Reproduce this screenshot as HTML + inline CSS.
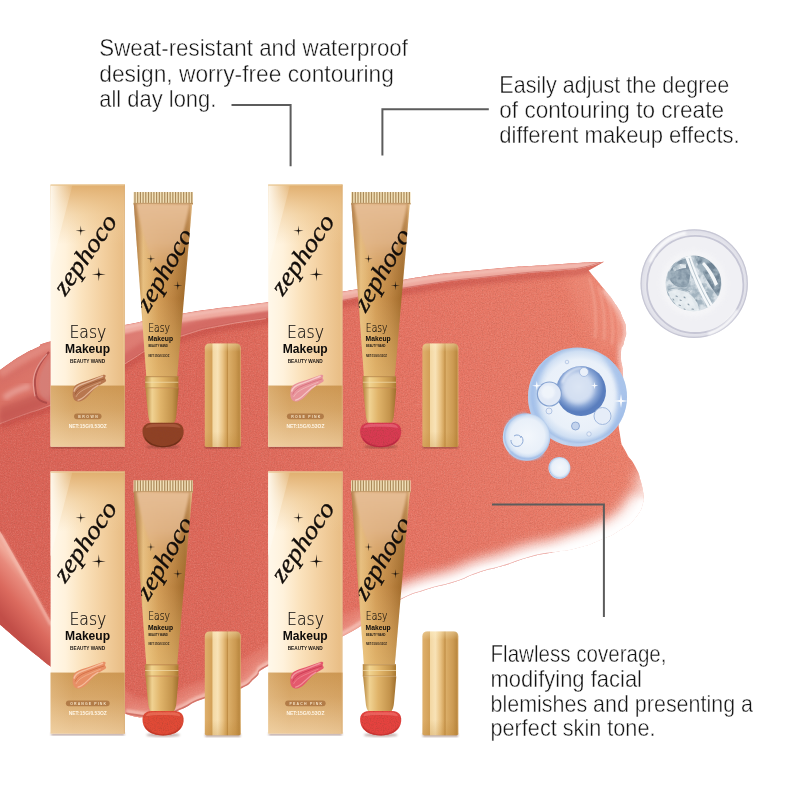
<!DOCTYPE html>
<html lang="en"><head><meta charset="utf-8"><title>Easy Makeup Beauty Wand</title>
<style>html,body{margin:0;padding:0;background:#fff;width:800px;height:800px;overflow:hidden}svg{display:block;will-change:transform}text{white-space:pre}</style>
</head><body>
<svg width="800" height="800" viewBox="0 0 800 800" font-family="'Liberation Sans', sans-serif">

<defs>
<linearGradient id="boxH" x1="0" x2="1" y1="0" y2="0">
 <stop offset="0" stop-color="#fff8ea"/><stop offset=".2" stop-color="#fff2dc"/><stop offset=".42" stop-color="#fbe3be"/>
 <stop offset=".7" stop-color="#f3d0a0"/><stop offset=".97" stop-color="#e9be86"/><stop offset="1" stop-color="#f3d5a8"/>
</linearGradient>
<linearGradient id="boxTop" x1="0" x2="0" y1="0" y2="1">
 <stop offset="0" stop-color="#e0ae6e" stop-opacity="1"/><stop offset=".2" stop-color="#e6b97e" stop-opacity=".85"/><stop offset=".5" stop-color="#ecc690" stop-opacity=".5"/><stop offset="1" stop-color="#f0cf9f" stop-opacity="0"/>
</linearGradient>
<linearGradient id="boxDiag" x1="0" x2="1" y1="0" y2="0">
 <stop offset="0" stop-color="#fffaf0" stop-opacity=".95"/><stop offset="1" stop-color="#fff4e0" stop-opacity=".1"/>
</linearGradient>
<linearGradient id="band" x1="0" x2="0" y1="0" y2="1">
 <stop offset="0" stop-color="#cd9752"/><stop offset=".4" stop-color="#d6a566"/><stop offset="1" stop-color="#ecc999"/>
</linearGradient>
<linearGradient id="bandH" x1="0" x2="1" y1="0" y2="0">
 <stop offset="0" stop-color="#f6dcb0" stop-opacity=".3"/><stop offset=".3" stop-color="#f6dcb0" stop-opacity=".05"/><stop offset="1" stop-color="#c8924e" stop-opacity=".12"/>
</linearGradient>
<linearGradient id="tubeH" x1="0" x2="1" y1="0" y2="0">
 <stop offset="0" stop-color="#94622a"/><stop offset=".05" stop-color="#ae7838"/><stop offset=".16" stop-color="#e8c080"/><stop offset=".25" stop-color="#e2b572"/>
 <stop offset=".42" stop-color="#d29c56"/><stop offset=".68" stop-color="#ba8240"/><stop offset=".88" stop-color="#a06a2a"/><stop offset=".95" stop-color="#b07a38"/><stop offset="1" stop-color="#f0d090"/>
</linearGradient>
<linearGradient id="tubeV" x1="0" x2="0" y1="0" y2="1">
 <stop offset="0" stop-color="#ddb08a" stop-opacity=".45"/><stop offset=".2" stop-color="#dcae84" stop-opacity=".25"/><stop offset=".55" stop-color="#e8c68c" stop-opacity="0"/><stop offset=".8" stop-color="#f0cc80" stop-opacity=".25"/><stop offset="1" stop-color="#f4d48a" stop-opacity=".38"/>
</linearGradient>
<linearGradient id="wedge" x1="0" x2="0" y1="0" y2="1">
 <stop offset="0" stop-color="#e6bd94" stop-opacity="1"/><stop offset=".5" stop-color="#e2b68a" stop-opacity=".85"/><stop offset="1" stop-color="#dcac7c" stop-opacity="0"/>
</linearGradient>
<linearGradient id="collarH" x1="0" x2="1" y1="0" y2="0">
 <stop offset="0" stop-color="#b88840"/><stop offset=".2" stop-color="#f1d490"/><stop offset=".5" stop-color="#e2b66a"/><stop offset=".85" stop-color="#c4944a"/><stop offset="1" stop-color="#a87830"/>
</linearGradient>
<linearGradient id="neckH" x1="0" x2="1" y1="0" y2="0">
 <stop offset="0" stop-color="#b4843c"/><stop offset=".2" stop-color="#f0d292"/><stop offset=".45" stop-color="#e0b46a"/><stop offset=".8" stop-color="#c4944c"/><stop offset="1" stop-color="#9e6e2c"/>
</linearGradient>
<linearGradient id="capH" x1="0" x2="1" y1="0" y2="0">
 <stop offset="0" stop-color="#dfb06c"/><stop offset=".1" stop-color="#d9a862"/><stop offset=".2" stop-color="#d2a058"/><stop offset=".225" stop-color="#f3d8a4"/>
 <stop offset=".36" stop-color="#f8e2b6"/><stop offset=".5" stop-color="#e9c384"/><stop offset=".6" stop-color="#d4a45c"/><stop offset=".63" stop-color="#c08e46"/>
 <stop offset=".66" stop-color="#dbae68"/><stop offset=".85" stop-color="#cc9a52"/><stop offset=".96" stop-color="#ba8840"/><stop offset="1" stop-color="#dcb070"/>
</linearGradient>
<linearGradient id="capV" x1="0" x2="0" y1="0" y2="1">
 <stop offset="0" stop-color="#fff2cc" stop-opacity=".35"/><stop offset=".08" stop-color="#fff2cc" stop-opacity="0"/><stop offset=".85" stop-color="#b8802e" stop-opacity="0"/><stop offset="1" stop-color="#b8802e" stop-opacity=".25"/>
</linearGradient>
<linearGradient id="swMain" gradientUnits="userSpaceOnUse" x1="0" y1="0" x2="650" y2="0">
 <stop offset="0" stop-color="#da6357"/><stop offset=".35" stop-color="#df695b"/><stop offset=".6" stop-color="#e67363"/><stop offset=".8" stop-color="#e97a68"/><stop offset="1" stop-color="#ed816c"/>
</linearGradient>
<linearGradient id="rimL" gradientUnits="userSpaceOnUse" x1="30" y1="580" x2="-4.2" y2="609">
 <stop offset="0" stop-color="#f0a898"/><stop offset=".18" stop-color="#e88a7c"/><stop offset=".55" stop-color="#db6a5e"/><stop offset="1" stop-color="#c24e48"/>
</linearGradient>
<linearGradient id="ribL" gradientUnits="userSpaceOnUse" x1="0" y1="0" x2="300" y2="0">
 <stop offset="0" stop-color="#d4604f" stop-opacity=".45"/><stop offset=".4" stop-color="#d4604f" stop-opacity=".15"/><stop offset="1" stop-color="#d4604f" stop-opacity="0"/>
</linearGradient>
<radialGradient id="drop" cx=".5" cy=".5" r=".5">
 <stop offset="0" stop-color="#f0f0f3"/><stop offset=".85" stop-color="#ececf1"/><stop offset=".94" stop-color="#e3e3eb"/><stop offset="1" stop-color="#dcdce6"/>
</radialGradient>
<radialGradient id="bub" cx=".52" cy=".48" r=".5">
 <stop offset="0" stop-color="#f3f7fc"/><stop offset=".72" stop-color="#e9f0f9"/><stop offset=".88" stop-color="#cfdff3"/><stop offset=".96" stop-color="#aac4e8"/><stop offset="1" stop-color="#c3d6f0"/>
</radialGradient>
<radialGradient id="bubIn" cx=".45" cy=".42" r=".5">
 <stop offset="0" stop-color="#dde7f5"/><stop offset=".5" stop-color="#bccdea"/><stop offset=".82" stop-color="#7d9cd0"/><stop offset="1" stop-color="#5a7ebe"/>
</radialGradient>
<filter id="blur6" x="-30%" y="-30%" width="160%" height="160%"><feGaussianBlur stdDeviation="6"/></filter>
<filter id="mott" x="0" y="0" width="100%" height="100%">
 <feTurbulence type="fractalNoise" baseFrequency="0.14" numOctaves="3" seed="7" result="n"/>
 <feColorMatrix in="n" type="matrix" values="0 0 0 0 0.36  0 0 0 0 0.45  0 0 0 0 0.52  3.2 0 0 0 -1.1" result="c"/>
 <feComposite in="c" in2="SourceGraphic" operator="in"/>
</filter>
<filter id="grain" x="0" y="0" width="100%" height="100%">
 <feTurbulence type="fractalNoise" baseFrequency="0.85" numOctaves="2" seed="3" result="n"/>
 <feColorMatrix in="n" type="matrix" values="0 0 0 0 0.25  0 0 0 0 0.05  0 0 0 0 0.03  0 2.2 0 0 -0.95" result="c"/>
 <feComposite in="c" in2="SourceGraphic" operator="in"/>
</filter>
<filter id="grainW" x="0" y="0" width="100%" height="100%">
 <feTurbulence type="fractalNoise" baseFrequency="0.7" numOctaves="2" seed="11" result="n"/>
 <feColorMatrix in="n" type="matrix" values="0 0 0 0 1  0 0 0 0 .9  0 0 0 0 .85  2.0 0 0 0 -0.95" result="c"/>
 <feComposite in="c" in2="SourceGraphic" operator="in"/>
</filter>
<filter id="blur05"><feGaussianBlur stdDeviation=".45"/></filter>
<filter id="blur1"><feGaussianBlur stdDeviation="1"/></filter>
<filter id="blur2" x="-20%" y="-20%" width="140%" height="140%"><feGaussianBlur stdDeviation="2.2"/></filter>
<filter id="blur4" x="-30%" y="-30%" width="160%" height="160%"><feGaussianBlur stdDeviation="4"/></filter>
<filter id="blur8" x="-40%" y="-40%" width="180%" height="180%"><feGaussianBlur stdDeviation="8"/></filter>
</defs>

<rect width="800" height="800" fill="#fff"/>
<clipPath id="silc"><path d="M0.0,370.0 C4.0,367.2 4.0,366.8 12.0,361.5 C20.0,356.2 15.7,358.7 24.0,354.0 C32.3,349.3 28.3,351.7 37.0,347.5 C45.7,343.3 32.3,346.5 50.0,341.5 C67.7,336.5 63.3,338.3 90.0,332.5 C116.7,326.7 98.0,330.5 130.0,324.0 C162.0,317.5 140.7,320.2 186.0,313.0 C231.3,305.8 213.7,309.7 266.0,302.5 C318.3,295.3 296.7,299.2 343.0,291.5 C389.3,283.8 359.3,286.6 405.0,279.4 C450.7,272.2 430.0,275.0 480.0,270.0 C530.0,265.0 513.7,267.2 555.0,264.4 C596.3,261.6 587.7,262.6 604.0,261.7 L588.5,270.5 C593.7,276.7 594.8,277.5 604.0,289.0 C613.2,300.5 609.8,295.5 616.0,305.0 C622.2,314.5 619.2,309.2 622.5,317.5 C625.8,325.8 625.5,321.8 626.0,330.0 C626.5,338.2 625.7,333.7 624.0,342.0 C622.3,350.3 621.3,342.3 621.0,355.0 C620.7,367.7 623.5,361.7 623.0,380.0 C622.5,398.3 620.5,391.7 619.5,410.0 C618.5,428.3 617.8,421.0 620.0,435.0 C622.2,449.0 621.0,441.7 626.0,452.0 C631.0,462.3 630.0,456.0 635.0,466.0 C640.0,476.0 638.0,470.7 641.0,482.0 C644.0,493.3 643.0,494.0 644.0,500.0 C641.3,505.7 644.0,507.0 636.0,517.0 C628.0,527.0 632.0,522.3 620.0,530.0 C608.0,537.7 614.3,534.0 600.0,540.0 C585.7,546.0 592.8,543.8 577.0,548.0 C561.2,552.2 568.2,549.5 552.5,552.5 C536.8,555.5 546.2,552.6 530.0,557.0 C513.8,561.4 521.2,560.3 503.8,565.6 C486.2,570.9 493.8,567.6 477.5,573.0 C461.2,578.4 472.5,576.1 455.0,581.8 C437.5,587.4 442.5,584.4 425.0,590.0 C407.5,595.6 417.5,591.5 402.5,598.5 C387.5,605.5 398.5,599.2 380.0,611.0 C361.5,622.8 372.0,620.7 347.0,634.0 C322.0,647.3 331.3,640.3 305.0,651.0 C278.7,661.7 284.7,657.0 268.0,666.0 C251.3,675.0 263.7,670.7 255.0,678.0 C246.3,685.3 253.0,682.7 242.0,688.0 C231.0,693.3 236.0,690.0 222.0,694.0 C208.0,698.0 213.3,695.0 200.0,700.0 C186.7,705.0 193.7,704.0 182.0,709.0 C170.3,714.0 175.7,712.3 165.0,715.0 C154.3,717.7 163.0,717.3 150.0,717.0 C137.0,716.7 142.7,719.3 126.0,714.0 C109.3,708.7 117.0,710.7 100.0,701.0 C83.0,691.3 91.7,696.7 75.0,685.0 C58.3,673.3 62.3,675.5 50.0,666.0 C37.7,656.5 46.3,663.2 38.0,656.5 C29.7,649.8 33.7,653.2 25.0,646.0 C16.3,638.8 20.3,642.2 12.0,635.0 C3.7,627.8 4.0,628.0 0.0,624.5 Z"/></clipPath>
<g id="swatch">
<path d="M0.0,370.0 C4.0,367.2 4.0,366.8 12.0,361.5 C20.0,356.2 15.7,358.7 24.0,354.0 C32.3,349.3 28.3,351.7 37.0,347.5 C45.7,343.3 32.3,346.5 50.0,341.5 C67.7,336.5 63.3,338.3 90.0,332.5 C116.7,326.7 98.0,330.5 130.0,324.0 C162.0,317.5 140.7,320.2 186.0,313.0 C231.3,305.8 213.7,309.7 266.0,302.5 C318.3,295.3 296.7,299.2 343.0,291.5 C389.3,283.8 359.3,286.6 405.0,279.4 C450.7,272.2 430.0,275.0 480.0,270.0 C530.0,265.0 513.7,267.2 555.0,264.4 C596.3,261.6 587.7,262.6 604.0,261.7 L588.5,270.5 C593.7,276.7 594.8,277.5 604.0,289.0 C613.2,300.5 609.8,295.5 616.0,305.0 C622.2,314.5 619.2,309.2 622.5,317.5 C625.8,325.8 625.5,321.8 626.0,330.0 C626.5,338.2 625.7,333.7 624.0,342.0 C622.3,350.3 621.3,342.3 621.0,355.0 C620.7,367.7 623.5,361.7 623.0,380.0 C622.5,398.3 620.5,391.7 619.5,410.0 C618.5,428.3 617.8,421.0 620.0,435.0 C622.2,449.0 621.0,441.7 626.0,452.0 C631.0,462.3 630.0,456.0 635.0,466.0 C640.0,476.0 638.0,470.7 641.0,482.0 C644.0,493.3 643.0,494.0 644.0,500.0 C641.3,505.7 644.0,507.0 636.0,517.0 C628.0,527.0 632.0,522.3 620.0,530.0 C608.0,537.7 614.3,534.0 600.0,540.0 C585.7,546.0 592.8,543.8 577.0,548.0 C561.2,552.2 568.2,549.5 552.5,552.5 C536.8,555.5 546.2,552.6 530.0,557.0 C513.8,561.4 521.2,560.3 503.8,565.6 C486.2,570.9 493.8,567.6 477.5,573.0 C461.2,578.4 472.5,576.1 455.0,581.8 C437.5,587.4 442.5,584.4 425.0,590.0 C407.5,595.6 417.5,591.5 402.5,598.5 C387.5,605.5 398.5,599.2 380.0,611.0 C361.5,622.8 372.0,620.7 347.0,634.0 C322.0,647.3 331.3,640.3 305.0,651.0 C278.7,661.7 284.7,657.0 268.0,666.0 C251.3,675.0 263.7,670.7 255.0,678.0 C246.3,685.3 253.0,682.7 242.0,688.0 C231.0,693.3 236.0,690.0 222.0,694.0 C208.0,698.0 213.3,695.0 200.0,700.0 C186.7,705.0 193.7,704.0 182.0,709.0 C170.3,714.0 175.7,712.3 165.0,715.0 C154.3,717.7 163.0,717.3 150.0,717.0 C137.0,716.7 142.7,719.3 126.0,714.0 C109.3,708.7 117.0,710.7 100.0,701.0 C83.0,691.3 91.7,696.7 75.0,685.0 C58.3,673.3 62.3,675.5 50.0,666.0 C37.7,656.5 46.3,663.2 38.0,656.5 C29.7,649.8 33.7,653.2 25.0,646.0 C16.3,638.8 20.3,642.2 12.0,635.0 C3.7,627.8 4.0,628.0 0.0,624.5 Z" fill="url(#swMain)"/>
<g clip-path="url(#silc)">
<rect x="0" y="255" width="660" height="470" fill="#000" opacity=".22" filter="url(#grain)"/>
<rect x="0" y="255" width="660" height="470" fill="#fff" opacity=".16" filter="url(#grainW)"/>
<path d="M560,262 L640,255 L650,345 L600,350 C585,320 570,290 560,262Z" fill="#f09582" opacity=".42" filter="url(#blur8)"/>
<path d="M0,531 C12,552 22,570 30,584 C38,598 45,611 51,622 L125,690 L135,697 C155,701 170,696 182,688 C190,684 197,682 204,680 C218,674 230,667 242,660 C251,654 260,649 268,644 C300,628 330,618 360,608 C385,598 405,588 425,581 C450,572 500,562 545,554 L545,600 L0,760Z" fill="#e98b7e" opacity=".5" filter="url(#blur2)"/>
<path d="M0,531 C12,552 22,570 30,584 C38,598 45,611 51,622 L51,700 L0,700Z" fill="url(#rimL)"/>
<path d="M0,534 C12,555 22,573 30,587 C38,601 45,614 51,625" fill="none" stroke="#f6c0b4" stroke-width="3" opacity=".65" filter="url(#blur1)"/>
<path d="M402.5,598.5 C395.0,602.7 398.5,599.2 380.0,611.0 C361.5,622.8 372.0,620.7 347.0,634.0 C322.0,647.3 331.3,640.3 305.0,651.0 C278.7,661.7 284.7,657.0 268.0,666.0 C251.3,675.0 263.7,670.7 255.0,678.0 C246.3,685.3 253.0,682.7 242.0,688.0 C231.0,693.3 236.0,690.0 222.0,694.0 C208.0,698.0 213.3,695.0 200.0,700.0 C186.7,705.0 193.7,704.0 182.0,709.0 C170.3,714.0 175.7,712.3 165.0,715.0 C154.3,717.7 163.0,717.3 150.0,717.0 C137.0,716.7 134.0,715.0 126.0,714.0" fill="none" stroke="#f3b0a3" stroke-width="16" opacity=".5" filter="url(#blur4)"/>
<path d="M402.5,598.5 C395.0,602.7 398.5,599.2 380.0,611.0 C361.5,622.8 372.0,620.7 347.0,634.0 C322.0,647.3 331.3,640.3 305.0,651.0 C278.7,661.7 284.7,657.0 268.0,666.0 C251.3,675.0 263.7,670.7 255.0,678.0 C246.3,685.3 253.0,682.7 242.0,688.0 C231.0,693.3 236.0,690.0 222.0,694.0 C208.0,698.0 213.3,695.0 200.0,700.0 C186.7,705.0 193.7,704.0 182.0,709.0 C170.3,714.0 175.7,712.3 165.0,715.0 C154.3,717.7 163.0,717.3 150.0,717.0 C137.0,716.7 134.0,715.0 126.0,714.0" fill="none" stroke="#fbd9d0" stroke-width="4" opacity=".55" filter="url(#blur1)" transform="translate(0,-3)"/>
<path d="M604.0,289.0 C608.0,294.3 609.8,295.5 616.0,305.0 C622.2,314.5 619.2,309.2 622.5,317.5 C625.8,325.8 625.5,321.8 626.0,330.0 C626.5,338.2 625.7,333.7 624.0,342.0 C622.3,350.3 621.3,342.3 621.0,355.0 C620.7,367.7 623.5,361.7 623.0,380.0 C622.5,398.3 620.7,400.0 619.5,410.0" fill="none" stroke="#fff" stroke-width="6" opacity=".55" filter="url(#blur2)"/>
<path d="M598,286 C603,300 606,318 604,340 M607,296 C612,310 614,326 612,345 M589,278 C594,292 597,312 595,338 M615,308 C619,320 620,332 618,348" fill="none" stroke="#f6b3a2" stroke-width="2.5" opacity=".45" filter="url(#blur1)"/>
<path d="M305.0,651.0 C292.7,656.0 284.7,657.0 268.0,666.0 C251.3,675.0 263.7,670.7 255.0,678.0 C246.3,685.3 253.0,682.7 242.0,688.0 C231.0,693.3 236.0,690.0 222.0,694.0 C208.0,698.0 213.3,695.0 200.0,700.0 C186.7,705.0 193.7,704.0 182.0,709.0 C170.3,714.0 175.7,712.3 165.0,715.0 C154.3,717.7 163.0,717.3 150.0,717.0 C137.0,716.7 134.0,715.0 126.0,714.0" fill="none" stroke="#b8443e" stroke-width="1.6" opacity=".5" filter="url(#blur05)" transform="translate(0,-0.8)"/>
<path d="M644.0,500.0 C641.3,505.7 644.0,507.0 636.0,517.0 C628.0,527.0 632.0,522.3 620.0,530.0 C608.0,537.7 614.3,534.0 600.0,540.0 C585.7,546.0 592.8,543.8 577.0,548.0 C561.2,552.2 568.2,549.5 552.5,552.5 C536.8,555.5 546.2,552.6 530.0,557.0 C513.8,561.4 521.2,560.3 503.8,565.6 C486.2,570.9 493.8,567.6 477.5,573.0 C461.2,578.4 472.5,576.1 455.0,581.8 C437.5,587.4 442.5,584.4 425.0,590.0 C407.5,595.6 417.5,591.5 402.5,598.5 C387.5,605.5 387.5,606.8 380.0,611.0" fill="none" stroke="#fff" stroke-width="26" opacity=".9" filter="url(#blur6)"/>
<path d="M644.0,500.0 C641.3,505.7 644.0,507.0 636.0,517.0 C628.0,527.0 632.0,522.3 620.0,530.0 C608.0,537.7 614.3,534.0 600.0,540.0 C585.7,546.0 592.8,543.8 577.0,548.0 C561.2,552.2 568.2,549.5 552.5,552.5 C536.8,555.5 546.2,552.6 530.0,557.0 C513.8,561.4 521.2,560.3 503.8,565.6 C486.2,570.9 493.8,567.6 477.5,573.0 C461.2,578.4 472.5,576.1 455.0,581.8 C437.5,587.4 442.5,584.4 425.0,590.0 C407.5,595.6 410.0,595.7 402.5,598.5" fill="none" stroke="#fff" stroke-width="8" opacity=".85" filter="url(#blur2)"/>
<path d="M656,470 C654,500 644,526 618,542 C598,553 578,557 560,559" fill="none" stroke="#fff" stroke-width="34" opacity=".8" filter="url(#blur8)"/>
<path d="M640,505 C625,530 600,545 570,552" fill="none" stroke="#fff" stroke-width="30" opacity=".45" filter="url(#blur8)"/>
<path d="M552.5,552.5 C545.0,554.0 546.2,552.6 530.0,557.0 C513.8,561.4 521.2,560.3 503.8,565.6 C486.2,570.9 493.8,567.6 477.5,573.0 C461.2,578.4 472.5,576.1 455.0,581.8 C437.5,587.4 442.5,584.4 425.0,590.0 C407.5,595.6 417.5,591.5 402.5,598.5 C387.5,605.5 387.5,606.8 380.0,611.0" fill="none" stroke="#d8605a" stroke-width="1.2" opacity=".55"/>
<path d="M0.0,423.0 C8.0,420.0 8.3,419.7 24.0,414.0 C39.7,408.3 30.0,412.7 47.0,406.0 C64.0,399.3 57.3,402.7 75.0,394.0 C92.7,385.3 81.7,391.3 100.0,380.0 C118.3,368.7 111.7,371.3 130.0,360.0 C148.3,348.7 136.3,354.7 155.0,346.0 C173.7,337.3 163.7,341.0 186.0,334.0 C208.3,327.0 195.3,330.3 222.0,325.0 C248.7,319.7 225.7,326.0 266.0,318.0 C306.3,310.0 291.7,311.7 343.0,301.0 C394.3,290.3 367.7,294.3 420.0,286.0 C472.3,277.7 453.3,281.2 500.0,276.0 C546.7,270.8 533.3,273.0 560.0,270.5 C586.7,268.0 565.3,271.4 580.0,268.5 C594.7,265.6 596.0,264.0 604.0,261.7" fill="none" stroke="#b8403c" stroke-width="7" opacity=".4" filter="url(#blur2)" transform="translate(0,3)"/>
<clipPath id="ribc"><path d="M0.0,370.0 C4.0,367.2 4.0,366.8 12.0,361.5 C20.0,356.2 15.7,358.7 24.0,354.0 C32.3,349.3 28.3,351.7 37.0,347.5 C45.7,343.3 32.3,346.5 50.0,341.5 C67.7,336.5 63.3,338.3 90.0,332.5 C116.7,326.7 98.0,330.5 130.0,324.0 C162.0,317.5 140.7,320.2 186.0,313.0 C231.3,305.8 213.7,309.7 266.0,302.5 C318.3,295.3 296.7,299.2 343.0,291.5 C389.3,283.8 359.3,286.6 405.0,279.4 C450.7,272.2 430.0,275.0 480.0,270.0 C530.0,265.0 513.7,267.2 555.0,264.4 C596.3,261.6 587.7,262.6 604.0,261.7 C596.0,264.0 594.7,265.6 580.0,268.5 C565.3,271.4 586.7,268.0 560.0,270.5 C533.3,273.0 546.7,270.8 500.0,276.0 C453.3,281.2 472.3,277.7 420.0,286.0 C367.7,294.3 394.3,290.3 343.0,301.0 C291.7,311.7 306.3,310.0 266.0,318.0 C225.7,326.0 248.7,319.7 222.0,325.0 C195.3,330.3 208.3,327.0 186.0,334.0 C163.7,341.0 173.7,337.3 155.0,346.0 C136.3,354.7 148.3,348.7 130.0,360.0 C111.7,371.3 118.3,368.7 100.0,380.0 C81.7,391.3 92.7,385.3 75.0,394.0 C57.3,402.7 64.0,399.3 47.0,406.0 C30.0,412.7 39.7,408.3 24.0,414.0 C8.3,419.7 8.0,420.0 0.0,423.0 Z"/></clipPath>
<path d="M0.0,370.0 C4.0,367.2 4.0,366.8 12.0,361.5 C20.0,356.2 15.7,358.7 24.0,354.0 C32.3,349.3 28.3,351.7 37.0,347.5 C45.7,343.3 32.3,346.5 50.0,341.5 C67.7,336.5 63.3,338.3 90.0,332.5 C116.7,326.7 98.0,330.5 130.0,324.0 C162.0,317.5 140.7,320.2 186.0,313.0 C231.3,305.8 213.7,309.7 266.0,302.5 C318.3,295.3 296.7,299.2 343.0,291.5 C389.3,283.8 359.3,286.6 405.0,279.4 C450.7,272.2 430.0,275.0 480.0,270.0 C530.0,265.0 513.7,267.2 555.0,264.4 C596.3,261.6 587.7,262.6 604.0,261.7 C596.0,264.0 594.7,265.6 580.0,268.5 C565.3,271.4 586.7,268.0 560.0,270.5 C533.3,273.0 546.7,270.8 500.0,276.0 C453.3,281.2 472.3,277.7 420.0,286.0 C367.7,294.3 394.3,290.3 343.0,301.0 C291.7,311.7 306.3,310.0 266.0,318.0 C225.7,326.0 248.7,319.7 222.0,325.0 C195.3,330.3 208.3,327.0 186.0,334.0 C163.7,341.0 173.7,337.3 155.0,346.0 C136.3,354.7 148.3,348.7 130.0,360.0 C111.7,371.3 118.3,368.7 100.0,380.0 C81.7,391.3 92.7,385.3 75.0,394.0 C57.3,402.7 64.0,399.3 47.0,406.0 C30.0,412.7 39.7,408.3 24.0,414.0 C8.3,419.7 8.0,420.0 0.0,423.0 Z" fill="#df8179"/>
<g clip-path="url(#ribc)">
<path d="M0.0,370.0 C4.0,367.2 4.0,366.8 12.0,361.5 C20.0,356.2 15.7,358.7 24.0,354.0 C32.3,349.3 28.3,351.7 37.0,347.5 C45.7,343.3 32.3,346.5 50.0,341.5 C67.7,336.5 63.3,338.3 90.0,332.5 C116.7,326.7 98.0,330.5 130.0,324.0 C162.0,317.5 140.7,320.2 186.0,313.0 C231.3,305.8 213.7,309.7 266.0,302.5 C318.3,295.3 296.7,299.2 343.0,291.5 C389.3,283.8 359.3,286.6 405.0,279.4 C450.7,272.2 430.0,275.0 480.0,270.0 C530.0,265.0 513.7,267.2 555.0,264.4 C596.3,261.6 587.7,262.6 604.0,261.7 C596.0,264.0 594.7,265.6 580.0,268.5 C565.3,271.4 586.7,268.0 560.0,270.5 C533.3,273.0 546.7,270.8 500.0,276.0 C453.3,281.2 472.3,277.7 420.0,286.0 C367.7,294.3 394.3,290.3 343.0,301.0 C291.7,311.7 306.3,310.0 266.0,318.0 C225.7,326.0 248.7,319.7 222.0,325.0 C195.3,330.3 208.3,327.0 186.0,334.0 C163.7,341.0 173.7,337.3 155.0,346.0 C136.3,354.7 148.3,348.7 130.0,360.0 C111.7,371.3 118.3,368.7 100.0,380.0 C81.7,391.3 92.7,385.3 75.0,394.0 C57.3,402.7 64.0,399.3 47.0,406.0 C30.0,412.7 39.7,408.3 24.0,414.0 C8.3,419.7 8.0,420.0 0.0,423.0 Z" fill="url(#ribL)"/>
<path d="M0.0,423.0 C8.0,420.0 8.3,419.7 24.0,414.0 C39.7,408.3 30.0,412.7 47.0,406.0 C64.0,399.3 57.3,402.7 75.0,394.0 C92.7,385.3 81.7,391.3 100.0,380.0 C118.3,368.7 111.7,371.3 130.0,360.0 C148.3,348.7 136.3,354.7 155.0,346.0 C173.7,337.3 163.7,341.0 186.0,334.0 C208.3,327.0 195.3,330.3 222.0,325.0 C248.7,319.7 225.7,326.0 266.0,318.0 C306.3,310.0 317.3,306.7 343.0,301.0" fill="none" stroke="#cd5d58" stroke-width="10" opacity=".6" filter="url(#blur2)" transform="translate(0,-4)"/>
<path d="M343.0,301.0 C368.7,296.0 367.7,294.3 420.0,286.0 C472.3,277.7 453.3,281.2 500.0,276.0 C546.7,270.8 533.3,273.0 560.0,270.5 C586.7,268.0 565.3,271.4 580.0,268.5 C594.7,265.6 596.0,264.0 604.0,261.7" fill="none" stroke="#cd5d58" stroke-width="3" opacity=".5" filter="url(#blur1)" transform="translate(0,-1)"/>
<path d="M90.0,338.0 C103.3,335.2 98.0,336.0 130.0,329.5 C162.0,323.0 140.7,325.7 186.0,318.5 C231.3,311.3 213.7,315.2 266.0,308.0 C318.3,300.8 296.7,304.7 343.0,297.0 C389.3,289.3 359.3,292.1 405.0,284.9 C450.7,277.7 430.0,280.5 480.0,275.5 C530.0,270.5 513.7,272.7 555.0,269.9 C596.3,267.1 587.7,268.1 604.0,267.2" fill="none" stroke="#f0aea3" stroke-width="9" opacity=".95" filter="url(#blur1)" transform="translate(0,-1.5)"/>
<path d="M90.0,338.0 C103.3,335.2 98.0,336.0 130.0,329.5 C162.0,323.0 140.7,325.7 186.0,318.5 C231.3,311.3 213.7,315.2 266.0,308.0 C318.3,300.8 296.7,304.7 343.0,297.0 C389.3,289.3 359.3,292.1 405.0,284.9 C450.7,277.7 430.0,280.5 480.0,275.5 C530.0,270.5 513.7,272.7 555.0,269.9 C596.3,267.1 587.7,268.1 604.0,267.2" fill="none" stroke="#f6cbc2" stroke-width="2.5" opacity=".6" filter="url(#blur1)" transform="translate(0,-3)"/>
<path d="M0.0,375.5 C4.0,372.7 4.0,372.3 12.0,367.0 C20.0,361.7 15.7,364.2 24.0,359.5 C32.3,354.8 28.3,357.2 37.0,353.0 C45.7,348.8 32.3,352.0 50.0,347.0 C67.7,342.0 76.7,341.0 90.0,338.0" fill="none" stroke="#e79a90" stroke-width="9" opacity=".55" filter="url(#blur2)" transform="translate(0,-1)"/>
<path d="M0.0,423.0 C8.0,420.0 8.3,419.7 24.0,414.0 C39.7,408.3 30.0,412.7 47.0,406.0 C64.0,399.3 57.3,402.7 75.0,394.0 C92.7,385.3 81.7,391.3 100.0,380.0 C118.3,368.7 111.7,371.3 130.0,360.0 C148.3,348.7 136.3,354.7 155.0,346.0 C173.7,337.3 163.7,341.0 186.0,334.0 C208.3,327.0 195.3,330.3 222.0,325.0 C248.7,319.7 225.7,326.0 266.0,318.0 C306.3,310.0 291.7,311.7 343.0,301.0 C394.3,290.3 367.7,294.3 420.0,286.0 C472.3,277.7 453.3,281.2 500.0,276.0 C546.7,270.8 533.3,273.0 560.0,270.5 C586.7,268.0 565.3,271.4 580.0,268.5 C594.7,265.6 596.0,264.0 604.0,261.7" fill="none" stroke="#c8605a" stroke-width="1" opacity=".6" transform="translate(0,-0.6)"/>
</g>
<path d="M0.0,423.0 C8.0,420.0 8.3,419.7 24.0,414.0 C39.7,408.3 30.0,412.7 47.0,406.0 C64.0,399.3 57.3,402.7 75.0,394.0 C92.7,385.3 81.7,391.3 100.0,380.0 C118.3,368.7 111.7,371.3 130.0,360.0 C148.3,348.7 136.3,354.7 155.0,346.0 C173.7,337.3 163.7,341.0 186.0,334.0 C208.3,327.0 195.3,330.3 222.0,325.0 C248.7,319.7 251.3,320.3 266.0,318.0" fill="none" stroke="#f3b5ad" stroke-width="1" opacity=".55" transform="translate(0,0.6)"/>
<path d="M0,407 C12,403 25,398 37,393 L48,404 C31,412 14,419 0,424Z" fill="#c0524e" opacity=".6" filter="url(#blur2)"/>
<path d="M0,378 C14,371 30,362 50,352 L50,360 C32,368 14,378 0,386Z" fill="#d26c66" opacity=".35" filter="url(#blur2)"/>
<path d="M49,352 C40,362 34,374 35,385 C35.5,391 36,394 36.5,396 C38,400 42,402 47,403" fill="none" stroke="#a84644" stroke-width="2" opacity=".8" filter="url(#blur05)"/><path d="M47,354 C38.5,363 32.5,374 33.3,385 C33.8,391 34.4,394 35,396.4" fill="none" stroke="#eeb0a8" stroke-width="1.2" opacity=".7" filter="url(#blur05)"/>
<path d="M50,356 C43,366 38,378 39,388 C40,396 44,400 50,402Z" fill="#d08a86" opacity=".45" filter="url(#blur1)"/>
<path d="M4,398 C12,392 22,388 30,386" fill="none" stroke="#f2bbb4" stroke-width="6" opacity=".55" filter="url(#blur2)"/>
</g>
</g>
<g id="drop">
<ellipse cx="694.2" cy="283.6" rx="53.6" ry="54.2" fill="url(#drop)"/>
<ellipse cx="694.2" cy="283.6" rx="53.1" ry="53.7" fill="none" stroke="#c3c3d2" stroke-width="1.2" opacity=".9"/>
<ellipse cx="695.2" cy="284.4" rx="48.2" ry="48.6" fill="#f0f0f4" stroke="#c6c6d5" stroke-width="1.8" filter="url(#blur05)"/>
<path d="M650,262 C657,246 670,236 686,233" fill="none" stroke="#fff" stroke-width="3" opacity=".9" filter="url(#blur1)"/>
<path d="M737,310 C730,322 720,330 708,334" fill="none" stroke="#fff" stroke-width="3" opacity=".8" filter="url(#blur1)"/>
<circle cx="693.5" cy="283.5" r="33" fill="#f6f6f8" opacity=".8" filter="url(#blur2)"/>
<clipPath id="discc"><circle cx="693.5" cy="283.5" r="28"/></clipPath>
<g clip-path="url(#discc)" filter="url(#blur05)">
<circle cx="693.5" cy="283.5" r="28.5" fill="#d9e1e7"/>
<path d="M668,276 C671,266 678,259 688,258 C691,266 691,276 688,286 C680,290 672,286 668,276Z" fill="#74899a" opacity=".9"/>
<path d="M673,268 C677,264 682,263 686,264 L686,268 C682,268 677,269 674,272Z" fill="#e4eaee"/>
<path d="M694,254 C704,255 714,262 720,274 C722,282 721,290 718,296 C712,290 706,278 700,268 C697,263 695,258 694,254Z" fill="#62788a" opacity=".9"/>
<path d="M708,292 C712,298 713,304 710,310 C706,306 703,298 702,292Z" fill="#7b8f9d" opacity=".8"/>
<circle cx="693.5" cy="283.5" r="28.5" fill="#6d8292" filter="url(#mott)"/>
<path d="M704,262 C710,268 715,276 718,284 L715,286 C712,278 707,270 702,264Z" fill="#f3f6f8"/>
<path d="M685,257 L690.5,255.5 C696,272 704,290 713,305 L708,308 C699,292 691,274 685,257Z" fill="#f5f8fa"/>
<path d="M689,258 C694,274 702,292 711,307" fill="none" stroke="#9fb0bc" stroke-width=".7"/>
<path d="M668,292 C676,288 686,290 692,296 C698,302 700,308 698,313 C688,314 674,308 668,292Z" fill="#eef2f5" opacity=".8"/>
<path d="M676,296 l1.2,.6 M680,300 l1.2,.4 M684,297 l1,.8 M679,305 l1.4,.5 M688,304 l1,.9 M692,309 l1.4,.3 M684,309 l1,.5 M673,299 l.8,1 M696,300 l1,1" stroke="#8a9ba8" stroke-width="1.1" stroke-linecap="round"/>
<path d="M668,290 C674,287 682,287 690,292" fill="none" stroke="#90a2af" stroke-width="1" opacity=".8"/>
</g>
</g>
<g id="bubbles">
<circle cx="577.5" cy="397" r="49.5" fill="url(#bub)"/>
<clipPath id="bbc"><circle cx="577.5" cy="397" r="49.5"/></clipPath>
<g clip-path="url(#bbc)">
<path d="M528,397 C528,372 542,355 560,350 C545,362 537,380 538,400 C539,418 547,432 558,441 C541,434 528,418 528,397Z" fill="#a3c0ea" opacity=".75" filter="url(#blur2)"/>
<path d="M627,397 C627,420 615,438 598,444 C611,432 618,416 618,398 C618,380 611,365 600,354 C616,361 627,376 627,397Z" fill="#9dbbe8" opacity=".8" filter="url(#blur2)"/>
<path d="M560,438 C572,446 590,446 602,438 C592,450 570,450 560,438Z" fill="#b4cbee" opacity=".7" filter="url(#blur1)"/>
</g>
<circle cx="581" cy="391" r="25" fill="url(#bubIn)"/>
<circle cx="578" cy="388" r="16" fill="#dbe5f4" opacity=".75" filter="url(#blur2)"/>
<path d="M562,383 C565,374 573,368 582,368" fill="none" stroke="#f4f8fd" stroke-width="2" opacity=".8" filter="url(#blur1)"/>
<circle cx="549.4" cy="394" r="12" fill="#e1e9f6" stroke="#86a3d1" stroke-width="1.2"/>
<circle cx="548" cy="392" r="7" fill="#f3f7fc" opacity=".8" filter="url(#blur1)"/>
<circle cx="602.5" cy="416" r="8.5" fill="#e6edf8" stroke="#a3bade" stroke-width="1"/>
<circle cx="584" cy="372" r="4.5" fill="#eaf0f9" stroke="#9db5dc" stroke-width=".8"/>
<circle cx="575.5" cy="426" r="4" fill="#c3d3ec" stroke="#7f9dcd" stroke-width=".8"/>
<circle cx="549" cy="411" r="3" fill="#e8eef8" stroke="#9db5dc" stroke-width=".7"/>
<circle cx="589" cy="434" r="2.2" fill="#e8eef8" stroke="#9db5dc" stroke-width=".6"/>
<circle cx="567" cy="362" r="1.8" fill="#e8eef8" stroke="#9db5dc" stroke-width=".6"/>
<path d="M620,400 l1,-6 l1,6 l6,1 l-6,1 l-1,6 l-1,-6 l-6,-1Z M536,385 l.8,-4 l.8,4 l4,.8 l-4,.8 l-.8,4 l-.8,-4 l-4,-.8Z M594,385 l.6,-3 l.6,3 l3,.6 l-3,.6 l-.6,3 l-.6,-3 l-3,-.6Z" fill="#fff" opacity=".95"/>
<circle cx="526.5" cy="437" r="23.8" fill="url(#bub)"/>
<path d="M505,430 C508,420 516,414 526,413.5" fill="none" stroke="#a9c4ea" stroke-width="2.5" opacity=".6" filter="url(#blur1)"/>
<path d="M510,452 C518,461 534,462 543,454" fill="none" stroke="#9fbce8" stroke-width="3" opacity=".7" filter="url(#blur1)"/>
<path d="M511,440 a6,6 0 1 0 10,-4 M514,436 a4,3 0 0 1 7,2" fill="none" stroke="#8eaad6" stroke-width="1"/>
<circle cx="559.4" cy="468" r="11" fill="url(#bub)"/>
</g>
<g transform="translate(50.6,184.6)">
<rect x="0.5" y="261" width="73.3" height="3" fill="#5a2a20" opacity=".4" filter="url(#blur1)"/>
<ellipse cx="112.5" cy="262.2" rx="17" ry="1.8" fill="#5a2a20" opacity=".4" filter="url(#blur1)"/>
<rect x="154.6" y="261" width="35.2" height="3" fill="#5a2a20" opacity=".45" filter="url(#blur1)"/>
<rect x="0" y="0" width="74.3" height="262" fill="url(#boxH)"/>
<rect x="0" y="0" width="74.3" height="60" fill="url(#boxTop)"/>
<path d="M0,0 L22,0 L0,85Z" fill="url(#boxDiag)"/>
<rect x="0" y="201" width="74.3" height="61" fill="url(#band)"/>
<rect x="0" y="201" width="74.3" height="61" fill="url(#bandH)"/>
<rect x="0" y="0" width="74.3" height="1.2" fill="#e9c48e" opacity=".8"/>
<rect x="73.3" y="0" width="1" height="262" fill="#d9ae78" opacity=".6"/>
<path d="M22.2,207.5 C22.4,204 23.6,201.6 25.6,200.2 C28.5,198.2 33,197 37.4,195.6 C42,194 47,192 51.5,190.6 C53,190.1 54.6,190 55,190.8 C55.3,191.8 54.2,192.6 54.5,193.6 C54.8,194.6 55.8,195.2 55.5,196.2 C55.2,197.4 54,197.6 52.8,198.3 C50,199.8 46.8,201.6 43.6,204.6 C41,207.2 38.8,210.2 36,212.8 C33.4,215.2 30,217 27,217 C24.4,216.8 22.8,214.6 22.3,212 C22,210.4 22,209 22.2,207.5Z" fill="#b8774f"/>
<path d="M23.6,206.5 C24.5,203 27.5,201 32,199.4 C38,197.4 45,194.4 52,191.6" fill="none" stroke="#e9c0a2" stroke-width="1.5" stroke-linecap="round" opacity=".9"/>
<path d="M24.6,209.5 C26,205.5 30,203 35,201 C40,199 46,196.6 53.5,194.4" fill="none" stroke="#9a5a38" stroke-width="1" stroke-linecap="round" opacity=".85"/>
<path d="M25.5,212 C27,208.5 31,206 36,203.6 C40,201.8 45,199.6 50,197.6" fill="none" stroke="#e9c0a2" stroke-width=".9" stroke-linecap="round" opacity=".6"/>
<path d="M27.5,215.6 C31,214.6 34,212 37,209 C40,206 43.5,203 47.5,200.8" fill="none" stroke="#e9c0a2" stroke-width="1.3" stroke-linecap="round" opacity=".85"/>
<text transform="translate(14.6,112.2) rotate(-55)" font-family="'Liberation Serif', serif" font-style="italic" font-size="25" fill="#120d0a" textLength="92" lengthAdjust="spacingAndGlyphs" stroke="#120d0a" stroke-width=".35">zephoco</text>
<path d="M30.20,41.00 L30.64,45.16 L31.24,45.76 L35.40,46.20 L31.24,46.64 L30.64,47.24 L30.20,51.40 L29.76,47.24 L29.16,46.64 L25.00,46.20 L29.16,45.76 L29.76,45.16Z" fill="#1a1410"/>
<path d="M48.20,82.70 L48.80,88.30 L49.60,89.11 L55.20,89.70 L49.60,90.30 L48.80,91.10 L48.20,96.70 L47.61,91.10 L46.80,90.30 L41.20,89.70 L46.80,89.11 L47.61,88.30Z" fill="#1a1410"/>
<text x="37.3" y="153.3" text-anchor="middle" font-family="'DejaVu Sans', 'Liberation Sans', sans-serif" font-weight="200" font-size="17.2" fill="#0c0a09" stroke="#0c0a09" stroke-width=".15" textLength="37" lengthAdjust="spacingAndGlyphs">Easy</text>
<text x="37" y="168.2" text-anchor="middle" font-size="12.2" font-weight="700" fill="#0d0b0a" textLength="45" lengthAdjust="spacingAndGlyphs">Makeup</text>
<text x="37" y="178.6" text-anchor="middle" font-size="4.9" font-weight="700" fill="#1a1512" textLength="35" lengthAdjust="spacingAndGlyphs">BEAUTY WAND</text>
<rect x="23.450000000000003" y="228.8" width="27.5" height="5.8" rx="2.9" fill="#b27c48"/>
<text x="37.5" y="233.1" text-anchor="middle" font-size="3.5" font-weight="700" fill="#f6e3c6" textLength="19.5" lengthAdjust="spacing">BROWN</text>
<text x="37.2" y="243.2" text-anchor="middle" font-size="5.2" font-weight="700" fill="#fff6e6" textLength="38" lengthAdjust="spacingAndGlyphs">NET:15G/0.53OZ</text>
<g transform="translate(0,0)">
<clipPath id="tb1"><path d="M83.2,19 L141.6,19 L126.6,191.5 L95.7,191.5Z"/></clipPath>
<rect x="82.9" y="7.5" width="59.5" height="12" fill="#f2e0b8"/>
<path d="M84.39,7.5V19.5 M87.09,7.5V19.5 M89.80,7.5V19.5 M92.50,7.5V19.5 M95.21,7.5V19.5 M97.91,7.5V19.5 M100.61,7.5V19.5 M103.32,7.5V19.5 M106.02,7.5V19.5 M108.73,7.5V19.5 M111.43,7.5V19.5 M114.14,7.5V19.5 M116.84,7.5V19.5 M119.55,7.5V19.5 M122.25,7.5V19.5 M124.96,7.5V19.5 M127.66,7.5V19.5 M130.36,7.5V19.5 M133.07,7.5V19.5 M135.77,7.5V19.5 M138.48,7.5V19.5 M141.18,7.5V19.5" stroke="#ab8a5a" stroke-width="1.2" fill="none"/>
<rect x="82.9" y="18.3" width="59.5" height="1.6" fill="#b98f5c"/>
<path d="M83.2,19.5 L141.6,19.5 L126.6,191.5 L95.7,191.5Z" fill="url(#tubeH)"/>
<path d="M83.2,19.5 L141.6,19.5 L126.6,191.5 L95.7,191.5Z" fill="url(#tubeV)"/>
<path d="M86,19.5 L139,19.5 C134,48 125,78 115,96 L110,96 C101,78 91,48 86,19.5Z" fill="url(#wedge)" filter="url(#blur1)"/>
<g clip-path="url(#tb1)">
<text transform="translate(97.6,128.6) rotate(-59.5)" font-family="'Liberation Serif', serif" font-style="italic" font-size="25" fill="#120d0a" textLength="91" lengthAdjust="spacingAndGlyphs" stroke="#120d0a" stroke-width=".35">zephoco</text>
</g>
<path d="M100.30,70.00 L100.66,73.36 L101.14,73.84 L104.50,74.20 L101.14,74.56 L100.66,75.04 L100.30,78.40 L99.94,75.04 L99.46,74.56 L96.10,74.20 L99.46,73.84 L99.94,73.36Z" fill="#1a1410"/>
<path d="M127.20,96.40 L127.59,100.08 L128.12,100.61 L131.80,101.00 L128.12,101.39 L127.59,101.92 L127.20,105.60 L126.81,101.92 L126.28,101.39 L122.60,101.00 L126.28,100.61 L126.81,100.08Z" fill="#1a1410"/>
<text x="97.6" y="147.6" font-family="'DejaVu Sans', 'Liberation Sans', sans-serif" font-weight="200" font-size="11.4" fill="#0c0a09" stroke="#0c0a09" stroke-width=".12" textLength="21.8" lengthAdjust="spacingAndGlyphs">Easy</text>
<text x="97.4" y="156.8" font-size="8" font-weight="700" fill="#0d0b0a" textLength="25" lengthAdjust="spacingAndGlyphs">Makeup</text>
<text x="97.8" y="162.8" font-size="2.9" font-weight="700" fill="#1a1512" textLength="19.5" lengthAdjust="spacingAndGlyphs">BEAUTY WAND</text>
<text x="97.8" y="172" font-size="2.9" font-weight="700" fill="#2a211a" textLength="21" lengthAdjust="spacingAndGlyphs">NET:15G/0.53OZ</text>
<rect x="94.6" y="191.5" width="33.2" height="12.2" fill="url(#collarH)"/>
<rect x="94.6" y="191.5" width="33.2" height="1.1" fill="#b88a4e" opacity=".8"/>
<rect x="94.6" y="197.2" width="33.2" height=".8" fill="#f5e2b4" opacity=".8"/>
<rect x="94.6" y="202.7" width="33.2" height="1" fill="#b88a4e" opacity=".7"/>
<path d="M94.9,203.7 L128.1,203.7 L125.9,229 C125.6,234 124.4,237.5 122.4,239.5 L100.9,239.5 C98.9,237.5 97.7,234 97.4,229Z" fill="url(#neckH)"/>
<path d="M92,248 C91.4,242.5 94.5,238.2 101,238.2 L124,238.2 C130.5,238.2 133.6,242.5 133,248 C132.4,255.5 127,262.6 112.5,262.6 C98,262.6 92.6,255.5 92,248Z" fill="#8e4124"/>
<path d="M92,248 C91.4,242.5 94.5,238.2 101,238.2 L124,238.2 C130.5,238.2 133.6,242.5 133,248 C132.4,255.5 127,262.6 112.5,262.6 C98,262.6 92.6,255.5 92,248Z" fill="#000" opacity=".35" filter="url(#grain)"/>
<path d="M95,243.5 C96,240.5 99,239.5 102,239.5 L123,239.5 C126,239.5 129,240.5 130,243.5 C122,241.6 103,241.6 95,243.5Z" fill="#b9684a" opacity=".55"/>
<path d="M94,252 C98,259 106,261.5 112.5,261.5 C119,261.5 127,259 131,252 C130,259 122,262.6 112.5,262.6 C103,262.6 95,259 94,252Z" fill="#5e2410" opacity=".6"/>
<path d="M154.2,163.6 C154.2,160.6 156,158.8 159,158.8 L185.4,158.8 C188.4,158.8 190.2,160.6 190.2,163.6 L190.2,261 C190.2,262 189.5,262.4 188.5,262.4 L156,262.4 C155,262.4 154.2,262 154.2,261Z" fill="url(#capH)"/>
<path d="M154.2,163.6 C154.2,160.6 156,158.8 159,158.8 L185.4,158.8 C188.4,158.8 190.2,160.6 190.2,163.6 L190.2,261 C190.2,262 189.5,262.4 188.5,262.4 L156,262.4 C155,262.4 154.2,262 154.2,261Z" fill="url(#capV)"/>
</g>
</g>
<g transform="translate(268.2,184.6)">
<rect x="0.5" y="261" width="73.3" height="3" fill="#5a2a20" opacity=".4" filter="url(#blur1)"/>
<ellipse cx="112.5" cy="262.2" rx="17" ry="1.8" fill="#5a2a20" opacity=".4" filter="url(#blur1)"/>
<rect x="154.6" y="261" width="35.2" height="3" fill="#5a2a20" opacity=".45" filter="url(#blur1)"/>
<rect x="0" y="0" width="74.3" height="262" fill="url(#boxH)"/>
<rect x="0" y="0" width="74.3" height="60" fill="url(#boxTop)"/>
<path d="M0,0 L22,0 L0,85Z" fill="url(#boxDiag)"/>
<rect x="0" y="201" width="74.3" height="61" fill="url(#band)"/>
<rect x="0" y="201" width="74.3" height="61" fill="url(#bandH)"/>
<rect x="0" y="0" width="74.3" height="1.2" fill="#e9c48e" opacity=".8"/>
<rect x="73.3" y="0" width="1" height="262" fill="#d9ae78" opacity=".6"/>
<path d="M22.2,207.5 C22.4,204 23.6,201.6 25.6,200.2 C28.5,198.2 33,197 37.4,195.6 C42,194 47,192 51.5,190.6 C53,190.1 54.6,190 55,190.8 C55.3,191.8 54.2,192.6 54.5,193.6 C54.8,194.6 55.8,195.2 55.5,196.2 C55.2,197.4 54,197.6 52.8,198.3 C50,199.8 46.8,201.6 43.6,204.6 C41,207.2 38.8,210.2 36,212.8 C33.4,215.2 30,217 27,217 C24.4,216.8 22.8,214.6 22.3,212 C22,210.4 22,209 22.2,207.5Z" fill="#e8939a"/>
<path d="M23.6,206.5 C24.5,203 27.5,201 32,199.4 C38,197.4 45,194.4 52,191.6" fill="none" stroke="#f8cfcd" stroke-width="1.5" stroke-linecap="round" opacity=".9"/>
<path d="M24.6,209.5 C26,205.5 30,203 35,201 C40,199 46,196.6 53.5,194.4" fill="none" stroke="#d76f7c" stroke-width="1" stroke-linecap="round" opacity=".85"/>
<path d="M25.5,212 C27,208.5 31,206 36,203.6 C40,201.8 45,199.6 50,197.6" fill="none" stroke="#f8cfcd" stroke-width=".9" stroke-linecap="round" opacity=".6"/>
<path d="M27.5,215.6 C31,214.6 34,212 37,209 C40,206 43.5,203 47.5,200.8" fill="none" stroke="#f8cfcd" stroke-width="1.3" stroke-linecap="round" opacity=".85"/>
<text transform="translate(14.6,112.2) rotate(-55)" font-family="'Liberation Serif', serif" font-style="italic" font-size="25" fill="#120d0a" textLength="92" lengthAdjust="spacingAndGlyphs" stroke="#120d0a" stroke-width=".35">zephoco</text>
<path d="M30.20,41.00 L30.64,45.16 L31.24,45.76 L35.40,46.20 L31.24,46.64 L30.64,47.24 L30.20,51.40 L29.76,47.24 L29.16,46.64 L25.00,46.20 L29.16,45.76 L29.76,45.16Z" fill="#1a1410"/>
<path d="M48.20,82.70 L48.80,88.30 L49.60,89.11 L55.20,89.70 L49.60,90.30 L48.80,91.10 L48.20,96.70 L47.61,91.10 L46.80,90.30 L41.20,89.70 L46.80,89.11 L47.61,88.30Z" fill="#1a1410"/>
<text x="37.3" y="153.3" text-anchor="middle" font-family="'DejaVu Sans', 'Liberation Sans', sans-serif" font-weight="200" font-size="17.2" fill="#0c0a09" stroke="#0c0a09" stroke-width=".15" textLength="37" lengthAdjust="spacingAndGlyphs">Easy</text>
<text x="37" y="168.2" text-anchor="middle" font-size="12.2" font-weight="700" fill="#0d0b0a" textLength="45" lengthAdjust="spacingAndGlyphs">Makeup</text>
<text x="37" y="178.6" text-anchor="middle" font-size="4.9" font-weight="700" fill="#1a1512" textLength="35" lengthAdjust="spacingAndGlyphs">BEAUTY WAND</text>
<rect x="18.700000000000003" y="228.8" width="37" height="5.8" rx="2.9" fill="#b27c48"/>
<text x="37.5" y="233.1" text-anchor="middle" font-size="3.5" font-weight="700" fill="#f6e3c6" textLength="29" lengthAdjust="spacing">ROSE PINK</text>
<text x="37.2" y="243.2" text-anchor="middle" font-size="5.2" font-weight="700" fill="#fff6e6" textLength="38" lengthAdjust="spacingAndGlyphs">NET:15G/0.53OZ</text>
<g transform="translate(0,0)">
<clipPath id="tb2"><path d="M83.2,19 L141.6,19 L126.6,191.5 L95.7,191.5Z"/></clipPath>
<rect x="82.9" y="7.5" width="59.5" height="12" fill="#f2e0b8"/>
<path d="M84.39,7.5V19.5 M87.09,7.5V19.5 M89.80,7.5V19.5 M92.50,7.5V19.5 M95.21,7.5V19.5 M97.91,7.5V19.5 M100.61,7.5V19.5 M103.32,7.5V19.5 M106.02,7.5V19.5 M108.73,7.5V19.5 M111.43,7.5V19.5 M114.14,7.5V19.5 M116.84,7.5V19.5 M119.55,7.5V19.5 M122.25,7.5V19.5 M124.96,7.5V19.5 M127.66,7.5V19.5 M130.36,7.5V19.5 M133.07,7.5V19.5 M135.77,7.5V19.5 M138.48,7.5V19.5 M141.18,7.5V19.5" stroke="#ab8a5a" stroke-width="1.2" fill="none"/>
<rect x="82.9" y="18.3" width="59.5" height="1.6" fill="#b98f5c"/>
<path d="M83.2,19.5 L141.6,19.5 L126.6,191.5 L95.7,191.5Z" fill="url(#tubeH)"/>
<path d="M83.2,19.5 L141.6,19.5 L126.6,191.5 L95.7,191.5Z" fill="url(#tubeV)"/>
<path d="M86,19.5 L139,19.5 C134,48 125,78 115,96 L110,96 C101,78 91,48 86,19.5Z" fill="url(#wedge)" filter="url(#blur1)"/>
<g clip-path="url(#tb2)">
<text transform="translate(97.6,128.6) rotate(-59.5)" font-family="'Liberation Serif', serif" font-style="italic" font-size="25" fill="#120d0a" textLength="91" lengthAdjust="spacingAndGlyphs" stroke="#120d0a" stroke-width=".35">zephoco</text>
</g>
<path d="M100.30,70.00 L100.66,73.36 L101.14,73.84 L104.50,74.20 L101.14,74.56 L100.66,75.04 L100.30,78.40 L99.94,75.04 L99.46,74.56 L96.10,74.20 L99.46,73.84 L99.94,73.36Z" fill="#1a1410"/>
<path d="M127.20,96.40 L127.59,100.08 L128.12,100.61 L131.80,101.00 L128.12,101.39 L127.59,101.92 L127.20,105.60 L126.81,101.92 L126.28,101.39 L122.60,101.00 L126.28,100.61 L126.81,100.08Z" fill="#1a1410"/>
<text x="97.6" y="147.6" font-family="'DejaVu Sans', 'Liberation Sans', sans-serif" font-weight="200" font-size="11.4" fill="#0c0a09" stroke="#0c0a09" stroke-width=".12" textLength="21.8" lengthAdjust="spacingAndGlyphs">Easy</text>
<text x="97.4" y="156.8" font-size="8" font-weight="700" fill="#0d0b0a" textLength="25" lengthAdjust="spacingAndGlyphs">Makeup</text>
<text x="97.8" y="162.8" font-size="2.9" font-weight="700" fill="#1a1512" textLength="19.5" lengthAdjust="spacingAndGlyphs">BEAUTY WAND</text>
<text x="97.8" y="172" font-size="2.9" font-weight="700" fill="#2a211a" textLength="21" lengthAdjust="spacingAndGlyphs">NET:15G/0.53OZ</text>
<rect x="94.6" y="191.5" width="33.2" height="12.2" fill="url(#collarH)"/>
<rect x="94.6" y="191.5" width="33.2" height="1.1" fill="#b88a4e" opacity=".8"/>
<rect x="94.6" y="197.2" width="33.2" height=".8" fill="#f5e2b4" opacity=".8"/>
<rect x="94.6" y="202.7" width="33.2" height="1" fill="#b88a4e" opacity=".7"/>
<path d="M94.9,203.7 L128.1,203.7 L125.9,229 C125.6,234 124.4,237.5 122.4,239.5 L100.9,239.5 C98.9,237.5 97.7,234 97.4,229Z" fill="url(#neckH)"/>
<path d="M92,248 C91.4,242.5 94.5,238.2 101,238.2 L124,238.2 C130.5,238.2 133.6,242.5 133,248 C132.4,255.5 127,262.6 112.5,262.6 C98,262.6 92.6,255.5 92,248Z" fill="#d83a52"/>
<path d="M92,248 C91.4,242.5 94.5,238.2 101,238.2 L124,238.2 C130.5,238.2 133.6,242.5 133,248 C132.4,255.5 127,262.6 112.5,262.6 C98,262.6 92.6,255.5 92,248Z" fill="#000" opacity=".35" filter="url(#grain)"/>
<path d="M95,243.5 C96,240.5 99,239.5 102,239.5 L123,239.5 C126,239.5 129,240.5 130,243.5 C122,241.6 103,241.6 95,243.5Z" fill="#ee7486" opacity=".55"/>
<path d="M94,252 C98,259 106,261.5 112.5,261.5 C119,261.5 127,259 131,252 C130,259 122,262.6 112.5,262.6 C103,262.6 95,259 94,252Z" fill="#a81e38" opacity=".6"/>
<path d="M154.2,163.6 C154.2,160.6 156,158.8 159,158.8 L185.4,158.8 C188.4,158.8 190.2,160.6 190.2,163.6 L190.2,261 C190.2,262 189.5,262.4 188.5,262.4 L156,262.4 C155,262.4 154.2,262 154.2,261Z" fill="url(#capH)"/>
<path d="M154.2,163.6 C154.2,160.6 156,158.8 159,158.8 L185.4,158.8 C188.4,158.8 190.2,160.6 190.2,163.6 L190.2,261 C190.2,262 189.5,262.4 188.5,262.4 L156,262.4 C155,262.4 154.2,262 154.2,261Z" fill="url(#capV)"/>
</g>
</g>
<g transform="translate(50.6,471.6)">
<rect x="0.5" y="261" width="73.3" height="3" fill="#5a2a20" opacity=".4" filter="url(#blur1)"/>
<ellipse cx="112.5" cy="263.4" rx="17" ry="1.8" fill="#5a2a20" opacity=".4" filter="url(#blur1)"/>
<rect x="154.6" y="262.2" width="35.2" height="3" fill="#5a2a20" opacity=".45" filter="url(#blur1)"/>
<rect x="0" y="0" width="74.3" height="262" fill="url(#boxH)"/>
<rect x="0" y="0" width="74.3" height="60" fill="url(#boxTop)"/>
<path d="M0,0 L22,0 L0,85Z" fill="url(#boxDiag)"/>
<rect x="0" y="201" width="74.3" height="61" fill="url(#band)"/>
<rect x="0" y="201" width="74.3" height="61" fill="url(#bandH)"/>
<rect x="0" y="0" width="74.3" height="1.2" fill="#e9c48e" opacity=".8"/>
<rect x="73.3" y="0" width="1" height="262" fill="#d9ae78" opacity=".6"/>
<path d="M22.2,207.5 C22.4,204 23.6,201.6 25.6,200.2 C28.5,198.2 33,197 37.4,195.6 C42,194 47,192 51.5,190.6 C53,190.1 54.6,190 55,190.8 C55.3,191.8 54.2,192.6 54.5,193.6 C54.8,194.6 55.8,195.2 55.5,196.2 C55.2,197.4 54,197.6 52.8,198.3 C50,199.8 46.8,201.6 43.6,204.6 C41,207.2 38.8,210.2 36,212.8 C33.4,215.2 30,217 27,217 C24.4,216.8 22.8,214.6 22.3,212 C22,210.4 22,209 22.2,207.5Z" fill="#e88f66"/>
<path d="M23.6,206.5 C24.5,203 27.5,201 32,199.4 C38,197.4 45,194.4 52,191.6" fill="none" stroke="#f7c3a4" stroke-width="1.5" stroke-linecap="round" opacity=".9"/>
<path d="M24.6,209.5 C26,205.5 30,203 35,201 C40,199 46,196.6 53.5,194.4" fill="none" stroke="#d46d45" stroke-width="1" stroke-linecap="round" opacity=".85"/>
<path d="M25.5,212 C27,208.5 31,206 36,203.6 C40,201.8 45,199.6 50,197.6" fill="none" stroke="#f7c3a4" stroke-width=".9" stroke-linecap="round" opacity=".6"/>
<path d="M27.5,215.6 C31,214.6 34,212 37,209 C40,206 43.5,203 47.5,200.8" fill="none" stroke="#f7c3a4" stroke-width="1.3" stroke-linecap="round" opacity=".85"/>
<text transform="translate(14.6,112.2) rotate(-55)" font-family="'Liberation Serif', serif" font-style="italic" font-size="25" fill="#120d0a" textLength="92" lengthAdjust="spacingAndGlyphs" stroke="#120d0a" stroke-width=".35">zephoco</text>
<path d="M30.20,41.00 L30.64,45.16 L31.24,45.76 L35.40,46.20 L31.24,46.64 L30.64,47.24 L30.20,51.40 L29.76,47.24 L29.16,46.64 L25.00,46.20 L29.16,45.76 L29.76,45.16Z" fill="#1a1410"/>
<path d="M48.20,82.70 L48.80,88.30 L49.60,89.11 L55.20,89.70 L49.60,90.30 L48.80,91.10 L48.20,96.70 L47.61,91.10 L46.80,90.30 L41.20,89.70 L46.80,89.11 L47.61,88.30Z" fill="#1a1410"/>
<text x="37.3" y="153.3" text-anchor="middle" font-family="'DejaVu Sans', 'Liberation Sans', sans-serif" font-weight="200" font-size="17.2" fill="#0c0a09" stroke="#0c0a09" stroke-width=".15" textLength="37" lengthAdjust="spacingAndGlyphs">Easy</text>
<text x="37" y="168.2" text-anchor="middle" font-size="12.2" font-weight="700" fill="#0d0b0a" textLength="45" lengthAdjust="spacingAndGlyphs">Makeup</text>
<text x="37" y="178.6" text-anchor="middle" font-size="4.9" font-weight="700" fill="#1a1512" textLength="35" lengthAdjust="spacingAndGlyphs">BEAUTY WAND</text>
<rect x="15.300000000000004" y="228.8" width="43.8" height="5.8" rx="2.9" fill="#b27c48"/>
<text x="37.5" y="233.1" text-anchor="middle" font-size="3.5" font-weight="700" fill="#f6e3c6" textLength="35.8" lengthAdjust="spacing">ORANGE PINK</text>
<text x="37.2" y="243.2" text-anchor="middle" font-size="5.2" font-weight="700" fill="#fff6e6" textLength="38" lengthAdjust="spacingAndGlyphs">NET:15G/0.53OZ</text>
<g transform="translate(0,1.2)">
<clipPath id="tb3"><path d="M83.2,19 L141.6,19 L126.6,191.5 L95.7,191.5Z"/></clipPath>
<rect x="82.9" y="7.5" width="59.5" height="12" fill="#f2e0b8"/>
<path d="M84.39,7.5V19.5 M87.09,7.5V19.5 M89.80,7.5V19.5 M92.50,7.5V19.5 M95.21,7.5V19.5 M97.91,7.5V19.5 M100.61,7.5V19.5 M103.32,7.5V19.5 M106.02,7.5V19.5 M108.73,7.5V19.5 M111.43,7.5V19.5 M114.14,7.5V19.5 M116.84,7.5V19.5 M119.55,7.5V19.5 M122.25,7.5V19.5 M124.96,7.5V19.5 M127.66,7.5V19.5 M130.36,7.5V19.5 M133.07,7.5V19.5 M135.77,7.5V19.5 M138.48,7.5V19.5 M141.18,7.5V19.5" stroke="#ab8a5a" stroke-width="1.2" fill="none"/>
<rect x="82.9" y="18.3" width="59.5" height="1.6" fill="#b98f5c"/>
<path d="M83.2,19.5 L141.6,19.5 L126.6,191.5 L95.7,191.5Z" fill="url(#tubeH)"/>
<path d="M83.2,19.5 L141.6,19.5 L126.6,191.5 L95.7,191.5Z" fill="url(#tubeV)"/>
<path d="M86,19.5 L139,19.5 C134,48 125,78 115,96 L110,96 C101,78 91,48 86,19.5Z" fill="url(#wedge)" filter="url(#blur1)"/>
<g clip-path="url(#tb3)">
<text transform="translate(97.6,128.6) rotate(-59.5)" font-family="'Liberation Serif', serif" font-style="italic" font-size="25" fill="#120d0a" textLength="91" lengthAdjust="spacingAndGlyphs" stroke="#120d0a" stroke-width=".35">zephoco</text>
</g>
<path d="M100.30,70.00 L100.66,73.36 L101.14,73.84 L104.50,74.20 L101.14,74.56 L100.66,75.04 L100.30,78.40 L99.94,75.04 L99.46,74.56 L96.10,74.20 L99.46,73.84 L99.94,73.36Z" fill="#1a1410"/>
<path d="M127.20,96.40 L127.59,100.08 L128.12,100.61 L131.80,101.00 L128.12,101.39 L127.59,101.92 L127.20,105.60 L126.81,101.92 L126.28,101.39 L122.60,101.00 L126.28,100.61 L126.81,100.08Z" fill="#1a1410"/>
<text x="97.6" y="147.6" font-family="'DejaVu Sans', 'Liberation Sans', sans-serif" font-weight="200" font-size="11.4" fill="#0c0a09" stroke="#0c0a09" stroke-width=".12" textLength="21.8" lengthAdjust="spacingAndGlyphs">Easy</text>
<text x="97.4" y="156.8" font-size="8" font-weight="700" fill="#0d0b0a" textLength="25" lengthAdjust="spacingAndGlyphs">Makeup</text>
<text x="97.8" y="162.8" font-size="2.9" font-weight="700" fill="#1a1512" textLength="19.5" lengthAdjust="spacingAndGlyphs">BEAUTY WAND</text>
<text x="97.8" y="172" font-size="2.9" font-weight="700" fill="#2a211a" textLength="21" lengthAdjust="spacingAndGlyphs">NET:15G/0.53OZ</text>
<rect x="94.6" y="191.5" width="33.2" height="12.2" fill="url(#collarH)"/>
<rect x="94.6" y="191.5" width="33.2" height="1.1" fill="#b88a4e" opacity=".8"/>
<rect x="94.6" y="197.2" width="33.2" height=".8" fill="#f5e2b4" opacity=".8"/>
<rect x="94.6" y="202.7" width="33.2" height="1" fill="#b88a4e" opacity=".7"/>
<path d="M94.9,203.7 L128.1,203.7 L125.9,229 C125.6,234 124.4,237.5 122.4,239.5 L100.9,239.5 C98.9,237.5 97.7,234 97.4,229Z" fill="url(#neckH)"/>
<path d="M92,248 C91.4,242.5 94.5,238.2 101,238.2 L124,238.2 C130.5,238.2 133.6,242.5 133,248 C132.4,255.5 127,262.6 112.5,262.6 C98,262.6 92.6,255.5 92,248Z" fill="#e14a36"/>
<path d="M92,248 C91.4,242.5 94.5,238.2 101,238.2 L124,238.2 C130.5,238.2 133.6,242.5 133,248 C132.4,255.5 127,262.6 112.5,262.6 C98,262.6 92.6,255.5 92,248Z" fill="#000" opacity=".35" filter="url(#grain)"/>
<path d="M95,243.5 C96,240.5 99,239.5 102,239.5 L123,239.5 C126,239.5 129,240.5 130,243.5 C122,241.6 103,241.6 95,243.5Z" fill="#f08068" opacity=".55"/>
<path d="M94,252 C98,259 106,261.5 112.5,261.5 C119,261.5 127,259 131,252 C130,259 122,262.6 112.5,262.6 C103,262.6 95,259 94,252Z" fill="#b32e1f" opacity=".6"/>
<path d="M154.2,163.6 C154.2,160.6 156,158.8 159,158.8 L185.4,158.8 C188.4,158.8 190.2,160.6 190.2,163.6 L190.2,261 C190.2,262 189.5,262.4 188.5,262.4 L156,262.4 C155,262.4 154.2,262 154.2,261Z" fill="url(#capH)"/>
<path d="M154.2,163.6 C154.2,160.6 156,158.8 159,158.8 L185.4,158.8 C188.4,158.8 190.2,160.6 190.2,163.6 L190.2,261 C190.2,262 189.5,262.4 188.5,262.4 L156,262.4 C155,262.4 154.2,262 154.2,261Z" fill="url(#capV)"/>
</g>
</g>
<g transform="translate(268.2,471.6)">
<rect x="0.5" y="261" width="73.3" height="3" fill="#5a2a20" opacity=".4" filter="url(#blur1)"/>
<ellipse cx="112.5" cy="263.4" rx="17" ry="1.8" fill="#5a2a20" opacity=".4" filter="url(#blur1)"/>
<rect x="154.6" y="262.2" width="35.2" height="3" fill="#5a2a20" opacity=".45" filter="url(#blur1)"/>
<rect x="0" y="0" width="74.3" height="262" fill="url(#boxH)"/>
<rect x="0" y="0" width="74.3" height="60" fill="url(#boxTop)"/>
<path d="M0,0 L22,0 L0,85Z" fill="url(#boxDiag)"/>
<rect x="0" y="201" width="74.3" height="61" fill="url(#band)"/>
<rect x="0" y="201" width="74.3" height="61" fill="url(#bandH)"/>
<rect x="0" y="0" width="74.3" height="1.2" fill="#e9c48e" opacity=".8"/>
<rect x="73.3" y="0" width="1" height="262" fill="#d9ae78" opacity=".6"/>
<path d="M22.2,207.5 C22.4,204 23.6,201.6 25.6,200.2 C28.5,198.2 33,197 37.4,195.6 C42,194 47,192 51.5,190.6 C53,190.1 54.6,190 55,190.8 C55.3,191.8 54.2,192.6 54.5,193.6 C54.8,194.6 55.8,195.2 55.5,196.2 C55.2,197.4 54,197.6 52.8,198.3 C50,199.8 46.8,201.6 43.6,204.6 C41,207.2 38.8,210.2 36,212.8 C33.4,215.2 30,217 27,217 C24.4,216.8 22.8,214.6 22.3,212 C22,210.4 22,209 22.2,207.5Z" fill="#e4596d"/>
<path d="M23.6,206.5 C24.5,203 27.5,201 32,199.4 C38,197.4 45,194.4 52,191.6" fill="none" stroke="#f59aa2" stroke-width="1.5" stroke-linecap="round" opacity=".9"/>
<path d="M24.6,209.5 C26,205.5 30,203 35,201 C40,199 46,196.6 53.5,194.4" fill="none" stroke="#c93a52" stroke-width="1" stroke-linecap="round" opacity=".85"/>
<path d="M25.5,212 C27,208.5 31,206 36,203.6 C40,201.8 45,199.6 50,197.6" fill="none" stroke="#f59aa2" stroke-width=".9" stroke-linecap="round" opacity=".6"/>
<path d="M27.5,215.6 C31,214.6 34,212 37,209 C40,206 43.5,203 47.5,200.8" fill="none" stroke="#f59aa2" stroke-width="1.3" stroke-linecap="round" opacity=".85"/>
<text transform="translate(14.6,112.2) rotate(-55)" font-family="'Liberation Serif', serif" font-style="italic" font-size="25" fill="#120d0a" textLength="92" lengthAdjust="spacingAndGlyphs" stroke="#120d0a" stroke-width=".35">zephoco</text>
<path d="M30.20,41.00 L30.64,45.16 L31.24,45.76 L35.40,46.20 L31.24,46.64 L30.64,47.24 L30.20,51.40 L29.76,47.24 L29.16,46.64 L25.00,46.20 L29.16,45.76 L29.76,45.16Z" fill="#1a1410"/>
<path d="M48.20,82.70 L48.80,88.30 L49.60,89.11 L55.20,89.70 L49.60,90.30 L48.80,91.10 L48.20,96.70 L47.61,91.10 L46.80,90.30 L41.20,89.70 L46.80,89.11 L47.61,88.30Z" fill="#1a1410"/>
<text x="37.3" y="153.3" text-anchor="middle" font-family="'DejaVu Sans', 'Liberation Sans', sans-serif" font-weight="200" font-size="17.2" fill="#0c0a09" stroke="#0c0a09" stroke-width=".15" textLength="37" lengthAdjust="spacingAndGlyphs">Easy</text>
<text x="37" y="168.2" text-anchor="middle" font-size="12.2" font-weight="700" fill="#0d0b0a" textLength="45" lengthAdjust="spacingAndGlyphs">Makeup</text>
<text x="37" y="178.6" text-anchor="middle" font-size="4.9" font-weight="700" fill="#1a1512" textLength="35" lengthAdjust="spacingAndGlyphs">BEAUTY WAND</text>
<rect x="16.950000000000003" y="228.8" width="40.5" height="5.8" rx="2.9" fill="#b27c48"/>
<text x="37.5" y="233.1" text-anchor="middle" font-size="3.5" font-weight="700" fill="#f6e3c6" textLength="32.5" lengthAdjust="spacing">PEACH PINK</text>
<text x="37.2" y="243.2" text-anchor="middle" font-size="5.2" font-weight="700" fill="#fff6e6" textLength="38" lengthAdjust="spacingAndGlyphs">NET:15G/0.53OZ</text>
<g transform="translate(0,1.2)">
<clipPath id="tb4"><path d="M83.2,19 L141.6,19 L126.6,191.5 L95.7,191.5Z"/></clipPath>
<rect x="82.9" y="7.5" width="59.5" height="12" fill="#f2e0b8"/>
<path d="M84.39,7.5V19.5 M87.09,7.5V19.5 M89.80,7.5V19.5 M92.50,7.5V19.5 M95.21,7.5V19.5 M97.91,7.5V19.5 M100.61,7.5V19.5 M103.32,7.5V19.5 M106.02,7.5V19.5 M108.73,7.5V19.5 M111.43,7.5V19.5 M114.14,7.5V19.5 M116.84,7.5V19.5 M119.55,7.5V19.5 M122.25,7.5V19.5 M124.96,7.5V19.5 M127.66,7.5V19.5 M130.36,7.5V19.5 M133.07,7.5V19.5 M135.77,7.5V19.5 M138.48,7.5V19.5 M141.18,7.5V19.5" stroke="#ab8a5a" stroke-width="1.2" fill="none"/>
<rect x="82.9" y="18.3" width="59.5" height="1.6" fill="#b98f5c"/>
<path d="M83.2,19.5 L141.6,19.5 L126.6,191.5 L95.7,191.5Z" fill="url(#tubeH)"/>
<path d="M83.2,19.5 L141.6,19.5 L126.6,191.5 L95.7,191.5Z" fill="url(#tubeV)"/>
<path d="M86,19.5 L139,19.5 C134,48 125,78 115,96 L110,96 C101,78 91,48 86,19.5Z" fill="url(#wedge)" filter="url(#blur1)"/>
<g clip-path="url(#tb4)">
<text transform="translate(97.6,128.6) rotate(-59.5)" font-family="'Liberation Serif', serif" font-style="italic" font-size="25" fill="#120d0a" textLength="91" lengthAdjust="spacingAndGlyphs" stroke="#120d0a" stroke-width=".35">zephoco</text>
</g>
<path d="M100.30,70.00 L100.66,73.36 L101.14,73.84 L104.50,74.20 L101.14,74.56 L100.66,75.04 L100.30,78.40 L99.94,75.04 L99.46,74.56 L96.10,74.20 L99.46,73.84 L99.94,73.36Z" fill="#1a1410"/>
<path d="M127.20,96.40 L127.59,100.08 L128.12,100.61 L131.80,101.00 L128.12,101.39 L127.59,101.92 L127.20,105.60 L126.81,101.92 L126.28,101.39 L122.60,101.00 L126.28,100.61 L126.81,100.08Z" fill="#1a1410"/>
<text x="97.6" y="147.6" font-family="'DejaVu Sans', 'Liberation Sans', sans-serif" font-weight="200" font-size="11.4" fill="#0c0a09" stroke="#0c0a09" stroke-width=".12" textLength="21.8" lengthAdjust="spacingAndGlyphs">Easy</text>
<text x="97.4" y="156.8" font-size="8" font-weight="700" fill="#0d0b0a" textLength="25" lengthAdjust="spacingAndGlyphs">Makeup</text>
<text x="97.8" y="162.8" font-size="2.9" font-weight="700" fill="#1a1512" textLength="19.5" lengthAdjust="spacingAndGlyphs">BEAUTY WAND</text>
<text x="97.8" y="172" font-size="2.9" font-weight="700" fill="#2a211a" textLength="21" lengthAdjust="spacingAndGlyphs">NET:15G/0.53OZ</text>
<rect x="94.6" y="191.5" width="33.2" height="12.2" fill="url(#collarH)"/>
<rect x="94.6" y="191.5" width="33.2" height="1.1" fill="#b88a4e" opacity=".8"/>
<rect x="94.6" y="197.2" width="33.2" height=".8" fill="#f5e2b4" opacity=".8"/>
<rect x="94.6" y="202.7" width="33.2" height="1" fill="#b88a4e" opacity=".7"/>
<path d="M94.9,203.7 L128.1,203.7 L125.9,229 C125.6,234 124.4,237.5 122.4,239.5 L100.9,239.5 C98.9,237.5 97.7,234 97.4,229Z" fill="url(#neckH)"/>
<path d="M92,248 C91.4,242.5 94.5,238.2 101,238.2 L124,238.2 C130.5,238.2 133.6,242.5 133,248 C132.4,255.5 127,262.6 112.5,262.6 C98,262.6 92.6,255.5 92,248Z" fill="#e5423f"/>
<path d="M92,248 C91.4,242.5 94.5,238.2 101,238.2 L124,238.2 C130.5,238.2 133.6,242.5 133,248 C132.4,255.5 127,262.6 112.5,262.6 C98,262.6 92.6,255.5 92,248Z" fill="#000" opacity=".35" filter="url(#grain)"/>
<path d="M95,243.5 C96,240.5 99,239.5 102,239.5 L123,239.5 C126,239.5 129,240.5 130,243.5 C122,241.6 103,241.6 95,243.5Z" fill="#f47a74" opacity=".55"/>
<path d="M94,252 C98,259 106,261.5 112.5,261.5 C119,261.5 127,259 131,252 C130,259 122,262.6 112.5,262.6 C103,262.6 95,259 94,252Z" fill="#b82a2a" opacity=".6"/>
<path d="M154.2,163.6 C154.2,160.6 156,158.8 159,158.8 L185.4,158.8 C188.4,158.8 190.2,160.6 190.2,163.6 L190.2,261 C190.2,262 189.5,262.4 188.5,262.4 L156,262.4 C155,262.4 154.2,262 154.2,261Z" fill="url(#capH)"/>
<path d="M154.2,163.6 C154.2,160.6 156,158.8 159,158.8 L185.4,158.8 C188.4,158.8 190.2,160.6 190.2,163.6 L190.2,261 C190.2,262 189.5,262.4 188.5,262.4 L156,262.4 C155,262.4 154.2,262 154.2,261Z" fill="url(#capV)"/>
</g>
</g>
<g fill="none" stroke="#5c5c5c" stroke-width="2">
<path d="M231.5,105 H290.6 V166.3"/>
<path d="M382.4,155.5 V109.2 H488.8"/>
<path d="M492,504.6 H603.9 V617"/>
</g>
<g fill="#141414" stroke="#fff" stroke-width=".42" class="para">
<text x="99.3" y="56.3" font-size="23.2" textLength="308.6" lengthAdjust="spacingAndGlyphs">Sweat-resistant and waterproof</text>
<text x="99.3" y="81.8" font-size="23.2" textLength="294.6" lengthAdjust="spacingAndGlyphs">design, worry-free contouring</text>
<text x="99.3" y="107.3" font-size="23.2" textLength="117" lengthAdjust="spacingAndGlyphs">all day long.</text>
<text x="499.3" y="93.3" font-size="23.2" textLength="230" lengthAdjust="spacingAndGlyphs">Easily adjust the degree</text>
<text x="499.3" y="118" font-size="23.2" textLength="224.7" lengthAdjust="spacingAndGlyphs">of contouring to create</text>
<text x="499.3" y="143" font-size="23.2" textLength="240.4" lengthAdjust="spacingAndGlyphs">different makeup effects.</text>
<text x="490.5" y="661.9" font-size="23.2" textLength="176" lengthAdjust="spacingAndGlyphs">Flawless coverage,</text>
<text x="490.5" y="686.8" font-size="23.2" textLength="151.5" lengthAdjust="spacingAndGlyphs">modifying facial</text>
<text x="490.5" y="711.7" font-size="23.2" textLength="262.5" lengthAdjust="spacingAndGlyphs">blemishes and presenting a</text>
<text x="490.5" y="736.3" font-size="23.2" textLength="165" lengthAdjust="spacingAndGlyphs">perfect skin tone.</text>
</g>
</svg>
</body></html>
